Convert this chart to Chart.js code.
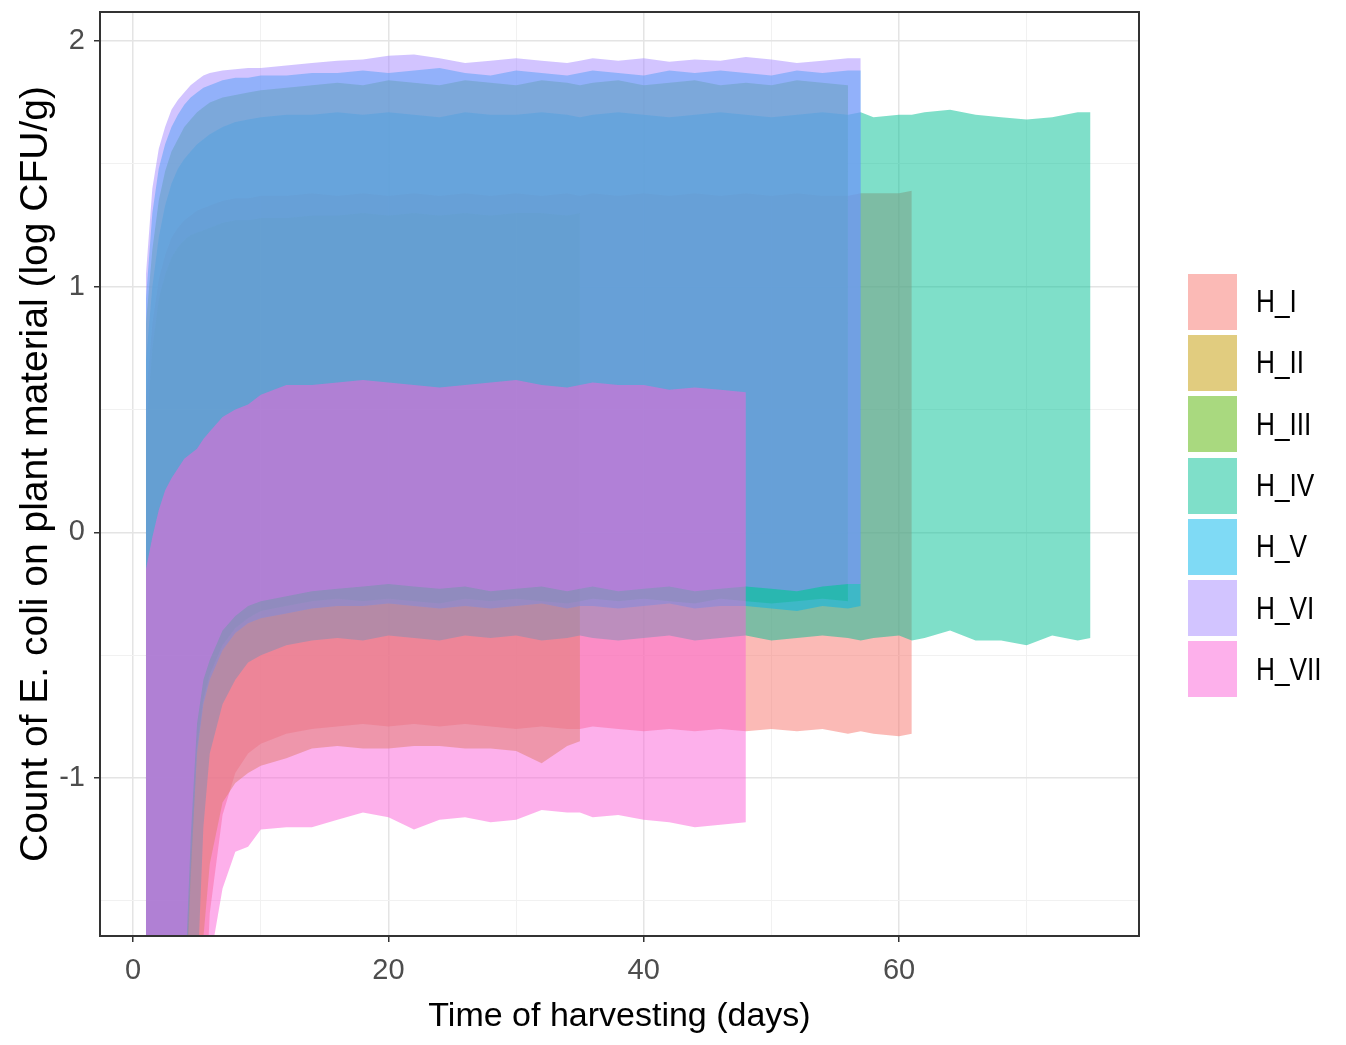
<!DOCTYPE html>
<html lang="en">
<head>
  <meta charset="UTF-8" />
  <title>E. coli on plant material</title>
  <style>
    body, html {
      margin: 0;
      padding: 0;
      background: #fff;
    }
    #wrap {
      position: relative;
      width: 1346px;
      height: 1045px;
    }
    #legend {
      position: absolute;
      left: 1188px;
      top: 271px;
      font-family: 'Liberation Sans', Arial, sans-serif;
      font-size: 32px;
      color: #000;
    }
    .item {
      display: flex;
      align-items: center;
      height: 61.3px;
    }
    .key {
      width: 49px;
      height: 56px;
      margin-right: 19px;
    }
    .item span {
      display: inline-block;
      transform: scaleX(0.82);
      transform-origin: left center;
    }
  </style>
</head>
<body>

<div id="wrap">
  <canvas id="chart" width="1346" height="1045"></canvas>
  <div id="legend"></div>
</div>

<script src="https://cdn.jsdelivr.net/npm/chart.js"></script>
<script>
  // time grid shared by every ribbon (days)
  const days = [1, 1.5, 2, 2.5, 3, 3.5, 4, 4.5, 5, 5.5, 6, 7, 8, 9, 10, 12, 14, 16, 18, 20,
    22, 24, 26, 28, 30, 32, 34, 35, 36, 38, 40, 42, 44, 46, 48, 50, 52, 54, 56, 57,
    58, 60, 61, 62, 64, 66, 68, 70, 72, 74, 75];

  const groups = ['H_I', 'H_II', 'H_III', 'H_IV', 'H_V', 'H_VI', 'H_VII'];
  const colors = ['#F8766D', '#C49A00', '#53B400', '#00C094', '#00B6EB', '#A58AFF', '#FB61D7'];

  // upper / lower limits (log CFU/g), one value per day in `days` until the group ends
  const upperI = [0.55, 0.85, 1.03, 1.13, 1.20, 1.24, 1.27, 1.29, 1.31, 1.32, 1.33, 1.35, 1.36, 1.36, 1.37, 1.37, 1.38, 1.37, 1.38, 1.37,
    1.38, 1.37, 1.38, 1.37, 1.38, 1.37, 1.38, 1.37, 1.38, 1.37, 1.38, 1.37, 1.38, 1.37, 1.38, 1.37, 1.38, 1.37, 1.37, 1.38,
    1.38, 1.38, 1.39];
  const lowerI = [-6.5, -5.8, -5.2, -4.6, -4.1, -3.6, -3.2, -2.9, -2.6, -2.1, -1.55, -1.15, -0.98, -0.90, -0.86, -0.82, -0.80, -0.79, -0.78, -0.79,
    -0.78, -0.79, -0.78, -0.79, -0.80, -0.79, -0.80, -0.80, -0.79, -0.80, -0.81, -0.80, -0.81, -0.80, -0.81, -0.80, -0.81, -0.80, -0.82, -0.81,
    -0.82, -0.83, -0.82];

  const upperII = [0.40, 0.75, 0.95, 1.05, 1.12, 1.16, 1.19, 1.21, 1.22, 1.23, 1.24, 1.26, 1.27, 1.27, 1.28, 1.28, 1.29, 1.29, 1.30, 1.29,
    1.30, 1.29, 1.30, 1.29, 1.30, 1.30, 1.29, 1.30];
  const lowerII = [-6.0, -5.4, -4.8, -4.2, -3.7, -3.2, -2.8, -2.5, -2.2, -1.65, -1.35, -1.10, -1.02, -0.98, -0.95, -0.92, -0.88, -0.87, -0.88, -0.88,
    -0.87, -0.87, -0.88, -0.88, -0.89, -0.94, -0.87, -0.85];

  const upperIII = [0.85, 1.15, 1.35, 1.47, 1.55, 1.60, 1.65, 1.68, 1.71, 1.73, 1.75, 1.77, 1.78, 1.79, 1.80, 1.81, 1.82, 1.83, 1.82, 1.84,
    1.83, 1.82, 1.84, 1.83, 1.82, 1.84, 1.83, 1.82, 1.83, 1.84, 1.82, 1.83, 1.84, 1.82, 1.83, 1.82, 1.84, 1.83, 1.82];
  const lowerIII = [-5.4, -4.8, -4.2, -3.6, -3.0, -2.5, -2.1, -1.42, -0.88, -0.68, -0.58, -0.46, -0.39, -0.35, -0.32, -0.30, -0.28, -0.27, -0.28, -0.27,
    -0.28, -0.29, -0.27, -0.28, -0.27, -0.28, -0.29, -0.28, -0.27, -0.28, -0.27, -0.28, -0.29, -0.27, -0.28, -0.29, -0.28, -0.27, -0.28];

  const upperIV = [0.70, 1.00, 1.20, 1.33, 1.42, 1.48, 1.52, 1.55, 1.58, 1.60, 1.62, 1.65, 1.67, 1.68, 1.69, 1.70, 1.70, 1.71, 1.70, 1.71,
    1.70, 1.69, 1.71, 1.70, 1.70, 1.71, 1.70, 1.69, 1.70, 1.71, 1.70, 1.69, 1.70, 1.71, 1.70, 1.69, 1.70, 1.71, 1.70, 1.71,
    1.69, 1.70, 1.70, 1.71, 1.72, 1.70, 1.69, 1.68, 1.69, 1.71, 1.71];
  const lowerIV = [-6.0, -5.3, -4.7, -4.1, -3.6, -3.2, -2.9, -2.4, -1.85, -1.20, -0.90, -0.70, -0.60, -0.53, -0.50, -0.46, -0.44, -0.43, -0.44, -0.42,
    -0.43, -0.44, -0.42, -0.43, -0.42, -0.44, -0.43, -0.42, -0.43, -0.44, -0.43, -0.42, -0.44, -0.43, -0.42, -0.44, -0.43, -0.42, -0.43, -0.44,
    -0.43, -0.42, -0.44, -0.43, -0.40, -0.44, -0.44, -0.46, -0.42, -0.44, -0.43];

  const upperV = [0.95, 1.30, 1.48, 1.58, 1.65, 1.70, 1.74, 1.77, 1.79, 1.81, 1.82, 1.84, 1.85, 1.85, 1.86, 1.86, 1.87, 1.87, 1.88, 1.87,
    1.88, 1.89, 1.87, 1.86, 1.88, 1.87, 1.86, 1.87, 1.88, 1.87, 1.86, 1.88, 1.87, 1.88, 1.87, 1.86, 1.88, 1.87, 1.88, 1.88];
  const lowerV = [-5.2, -4.6, -4.0, -3.4, -2.9, -2.4, -2.0, -1.38, -0.9, -0.70, -0.60, -0.48, -0.41, -0.37, -0.35, -0.33, -0.31, -0.30, -0.30, -0.29,
    -0.30, -0.31, -0.30, -0.31, -0.30, -0.29, -0.31, -0.30, -0.30, -0.31, -0.30, -0.29, -0.31, -0.30, -0.30, -0.31, -0.32, -0.30, -0.31, -0.30];

  const upperVI = [1.05, 1.40, 1.56, 1.65, 1.72, 1.76, 1.79, 1.82, 1.84, 1.86, 1.87, 1.88, 1.885, 1.89, 1.89, 1.90, 1.91, 1.92, 1.925, 1.94,
    1.945, 1.93, 1.91, 1.92, 1.93, 1.92, 1.91, 1.92, 1.93, 1.92, 1.93, 1.915, 1.925, 1.92, 1.935, 1.925, 1.91, 1.92, 1.93, 1.93];
  const lowerVI = [-5.0, -4.4, -3.8, -3.3, -2.8, -2.3, -1.9, -1.25, -0.78, -0.60, -0.52, -0.40, -0.34, -0.30, -0.28, -0.26, -0.24, -0.23, -0.22, -0.21,
    -0.22, -0.23, -0.22, -0.24, -0.23, -0.22, -0.24, -0.23, -0.22, -0.24, -0.23, -0.22, -0.24, -0.23, -0.22, -0.23, -0.24, -0.22, -0.21, -0.21];

  const upperVII = [-0.15, -0.02, 0.09, 0.17, 0.22, 0.26, 0.30, 0.32, 0.34, 0.38, 0.41, 0.47, 0.50, 0.52, 0.56, 0.60, 0.60, 0.61, 0.62, 0.61,
    0.60, 0.59, 0.60, 0.61, 0.62, 0.60, 0.59, 0.60, 0.61, 0.60, 0.60, 0.58, 0.59, 0.58, 0.57];
  const lowerVII = [-5.0, -4.5, -4.1, -3.8, -3.5, -3.2, -2.9, -2.6, -2.3, -2.0, -1.75, -1.45, -1.30, -1.28, -1.21, -1.20, -1.20, -1.17, -1.14, -1.16,
    -1.21, -1.17, -1.16, -1.18, -1.17, -1.13, -1.14, -1.14, -1.16, -1.15, -1.17, -1.18, -1.20, -1.19, -1.18];

  const uppers = [upperI, upperII, upperIII, upperIV, upperV, upperVI, upperVII];
  const lowers = [lowerI, lowerII, lowerIII, lowerIV, lowerV, lowerVI, lowerVII];

  // axis ticks
  const xMajor = [0, 20, 40, 60];
  const xMinor = [10, 30, 50, 70];
  const yMajor = [-1, 0, 1, 2];
  const yMinor = [-1.5, -0.5, 0.5, 1.5];

  const sans = "'Liberation Sans', Arial, sans-serif";

  function withAlpha(hex, a) {
    const n = parseInt(hex.slice(1), 16);
    return 'rgba(' + (n >> 16) + ',' + ((n >> 8) & 255) + ',' + (n & 255) + ',' + a + ')';
  }

  function points(vals) {
    return vals.map((v, i) => ({ x: days[i], y: v }));
  }

  const datasets = [];
  groups.forEach((g, i) => {
    const order = groups.length - i; // last group drawn on top, like ggplot
    datasets.push({
      label: g,
      data: points(uppers[i]),
      backgroundColor: withAlpha(colors[i], 0.5),
      borderWidth: 0,
      pointRadius: 0,
      fill: '+1',
      order: order
    });
    datasets.push({
      label: g + ' lower',
      data: points(lowers[i]),
      borderWidth: 0,
      pointRadius: 0,
      fill: false,
      order: order
    });
  });

  // legend
  const legend = document.getElementById('legend');
  groups.forEach((g, i) => {
    const row = document.createElement('div');
    row.className = 'item';
    const key = document.createElement('div');
    key.className = 'key';
    key.style.background = withAlpha(colors[i], 0.5);
    const txt = document.createElement('span');
    txt.textContent = g;
    row.appendChild(key);
    row.appendChild(txt);
    legend.appendChild(row);
  });

  const panelBorder = {
    id: 'panelBorder',
    afterDatasetsDraw(chart) {
      const { ctx, chartArea: a } = chart;
      ctx.save();
      ctx.strokeStyle = '#333333';
      ctx.lineWidth = 2;
      ctx.strokeRect(a.left, a.top, a.right - a.left, a.bottom - a.top);
      ctx.restore();
    }
  };

  function gridOpts(major) {
    return {
      color: c => major.includes(c.tick.value) ? '#E4E4E4' : '#F1F1F1',
      lineWidth: c => major.includes(c.tick.value) ? 1.5 : 1,
      tickColor: c => major.includes(c.tick.value) ? '#333333' : 'rgba(0,0,0,0)',
      tickWidth: 1.5,
      tickLength: 6,
      drawTicks: true
    };
  }

  new Chart(document.getElementById('chart'), {
    type: 'line',
    data: { datasets: datasets },
    options: {
      responsive: false,
      animation: false,
      layout: { padding: { top: 12, right: 207, left: 0, bottom: 0 } },
      plugins: {
        legend: { display: false },
        tooltip: { enabled: false },
        filler: { propagate: false }
      },
      scales: {
        x: {
          type: 'linear',
          min: -2.6,
          max: 78.8,
          afterBuildTicks: s => { s.ticks = xMajor.concat(xMinor).sort((a, b) => a - b).map(v => ({ value: v })); },
          afterFit: s => { s.height = 109; s.paddingLeft = 0; s.paddingRight = 0; },
          border: { display: false },
          grid: gridOpts(xMajor),
          ticks: {
            autoSkip: false,
            maxRotation: 0,
            padding: 12,
            color: '#4D4D4D',
            font: { family: sans, size: 29 },
            callback: v => xMajor.includes(v) ? String(v) : ''
          },
          title: {
            display: true,
            text: 'Time of harvesting (days)',
            color: '#000',
            font: { family: sans, size: 34 },
            padding: { top: 0, bottom: 8 }
          }
        },
        y: {
          type: 'linear',
          min: -1.643,
          max: 2.118,
          afterBuildTicks: s => { s.ticks = yMajor.concat(yMinor).sort((a, b) => a - b).map(v => ({ value: v })); },
          afterFit: s => { s.width = 100; s.paddingTop = 0; s.paddingBottom = 0; },
          border: { display: false },
          grid: gridOpts(yMajor),
          ticks: {
            autoSkip: false,
            padding: 9,
            color: '#4D4D4D',
            font: { family: sans, size: 29 },
            callback: v => yMajor.includes(v) ? String(v) : ''
          },
          title: {
            display: true,
            text: 'Count of E. coli on plant material (log CFU/g)',
            color: '#000',
            font: { family: sans, size: 39 },
            padding: { top: 13, bottom: 0 }
          }
        }
      }
    },
    plugins: [panelBorder]
  });
</script>
</body>
</html>
